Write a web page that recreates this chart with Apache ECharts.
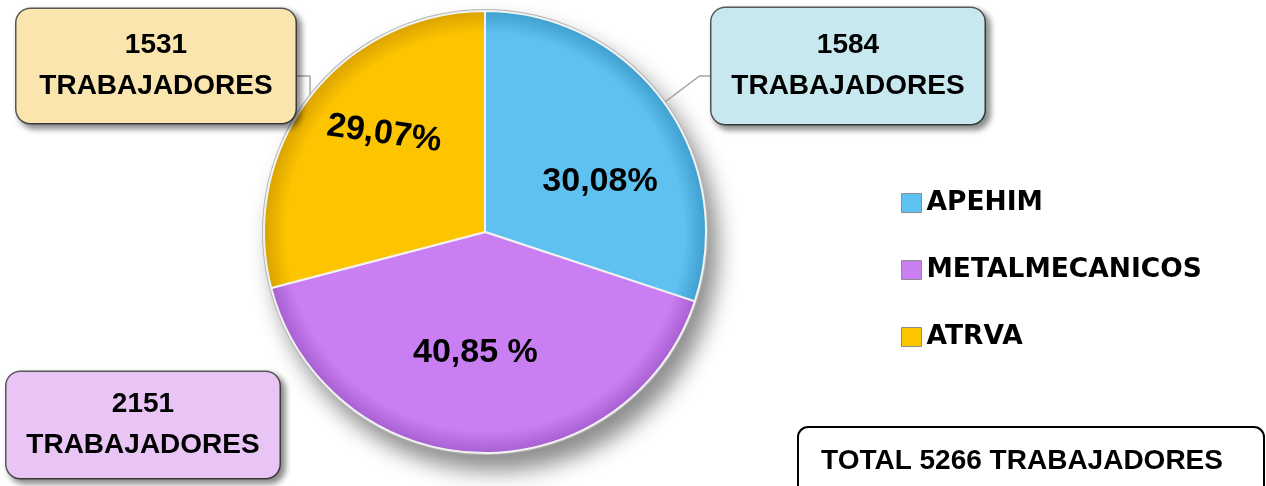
<!DOCTYPE html>
<html lang="es">
<head>
<meta charset="utf-8">
<script src="https://cdn.jsdelivr.net/npm/echarts@6/dist/echarts.min.js"></script>
<style>
  html, body { margin: 0; padding: 0; background: #fff; }
  #grafico { width: 1266px; height: 486px; }
</style>
</head>
<body>
<div id="grafico"></div>
<script>
// Datos
const sindicatos = ['APEHIM', 'METALMECANICOS', 'ATRVA'];
const trabajadores = [1584, 2151, 1531];
const etiquetasPct = ['30,08%', '40,85 %', '29,07%'];

// Estilo
const colores = ['#5ec1f0', '#c97ff2', '#fdc400'];
const bordes = ['#3f9fcf', '#a85fd2', '#d9a300'];
const coloresCaja = ['#c6e8ee', '#e8c5f5', '#fbe5ae'];
const fuente = '"Liberation Sans", Arial, sans-serif';

const total = trabajadores.reduce((a, b) => a + b, 0);
const centro = [485, 232];
const radio = 221;

// cajas de texto: centro, ancho, padding
const cajas = [
  { c: [848, 66], w: 273, pad: [17, 21] },
  { c: [143, 425], w: 272, pad: [12, 21] },
  { c: [156, 66], w: 279, pad: [16, 24] }
];
// desplazamiento de los porcentajes dentro del sector
const ajustePct = [[23, 16, 0], [-6, 7, 0], [-15, -27, -8]];

const myChart = echarts.init(document.getElementById('grafico'));

function relleno(i) {
  return new echarts.graphic.RadialGradient(centro[0], centro[1], radio, [
    { offset: 0, color: colores[i] },
    { offset: 0.9, color: colores[i] },
    { offset: 1, color: bordes[i] }
  ], true);
}

const datosCaja = sindicatos.map((n, i) => ({
  name: n,
  value: trabajadores[i],
  itemStyle: { color: relleno(i) },
  label: { backgroundColor: coloresCaja[i], padding: cajas[i].pad },
  labelLine: { show: i !== 1 }
}));

const datosPct = sindicatos.map((n, i) => ({
  name: n,
  value: trabajadores[i],
  label: { rotate: ajustePct[i][2] }
}));

const option = {
  animation: false,
  color: colores,
  legend: {
    orient: 'vertical',
    left: 896,
    top: 183,
    itemWidth: 20,
    itemHeight: 19,
    itemGap: 37,
    icon: 'rect',
    data: sindicatos.map((n, i) => ({
      name: n,
      itemStyle: { color: colores[i], borderColor: '#8c8c8c', borderWidth: 1, shadowBlur: 0 }
    })),
    textStyle: {
      fontFamily: '"DejaVu Sans", Verdana, sans-serif',
      fontWeight: 'bold',
      fontSize: 26.5,
      lineHeight: 30,
      color: '#000'
    }
  },
  graphic: [
    {
      type: 'rect',
      shape: { x: 798, y: 427, width: 466, height: 80, r: 10 },
      style: { fill: '#fff', stroke: '#000', lineWidth: 2 }
    },
    {
      type: 'text',
      x: 1022,
      y: 461,
      style: {
        text: 'TOTAL ' + total + ' TRABAJADORES',
        fill: '#000',
        font: 'bold 28px ' + fuente,
        align: 'center',
        verticalAlign: 'middle'
      }
    }
  ],
  series: [
    {
      // fondo con sombra y aro gris
      type: 'pie',
      center: centro,
      radius: radio + 2,
      silent: true,
      z: 1,
      label: { show: false },
      labelLine: { show: false },
      itemStyle: {
        color: '#b5b5b5',
        shadowBlur: 22,
        shadowOffsetX: 10,
        shadowOffsetY: 16,
        shadowColor: 'rgba(0,0,0,0.45)'
      },
      data: [{ name: '', value: total }]
    },
    {
      type: 'pie',
      center: centro,
      radius: radio,
      startAngle: 90,
      clockwise: true,
      z: 2,
      itemStyle: { borderColor: '#f2f2f2', borderWidth: 2 },
      label: {
        show: true,
        position: 'outside',
        formatter: '{c}\nTRABAJADORES',
        fontFamily: fuente,
        fontWeight: 'bold',
        fontSize: 28,
        lineHeight: 41,
        width: 231,
        overflow: 'none',
        color: '#000',
        align: 'center',
        borderColor: '#5a5a5a',
        borderWidth: 1.5,
        borderRadius: 14,
        shadowColor: 'rgba(0,0,0,0.45)',
        shadowBlur: 6,
        shadowOffsetX: 4,
        shadowOffsetY: 4
      },
      labelLine: { lineStyle: { color: '#a6a6a6', width: 1.5 } },
      labelLayout: function (params) {
        const i = params.dataIndex;
        const b = cajas[i];
        const p0 = params.labelLinePoints ? params.labelLinePoints[0] : [0, 0];
        let pts;
        if (i === 0) {
          const xl = b.c[0] - b.w / 2;
          pts = [p0, [xl - 12, 76], [xl, 76]];
        } else {
          const xr = b.c[0] + b.w / 2;
          pts = [p0, [p0[0], 76], [xr, 76]];
        }
        return {
          x: b.c[0],
          y: b.c[1],
          align: 'center',
          verticalAlign: 'middle',
          labelLinePoints: pts
        };
      },
      emphasis: { disabled: true },
      data: datosCaja
    },
    {
      type: 'pie',
      center: centro,
      radius: radio,
      startAngle: 90,
      clockwise: true,
      silent: true,
      z: 3,
      itemStyle: { color: 'rgba(0,0,0,0)' },
      label: {
        show: true,
        position: 'inside',
        formatter: p => etiquetasPct[p.dataIndex],
        fontFamily: fuente,
        fontWeight: 'bold',
        fontSize: 34,
        color: '#000'
      },
      labelLine: { show: false },
      labelLayout: function (params) {
        const a = ajustePct[params.dataIndex];
        return { dx: a[0], dy: a[1] };
      },
      emphasis: { disabled: true },
      data: datosPct
    }
  ]
};

myChart.setOption(option);
</script>
</body>
</html>
